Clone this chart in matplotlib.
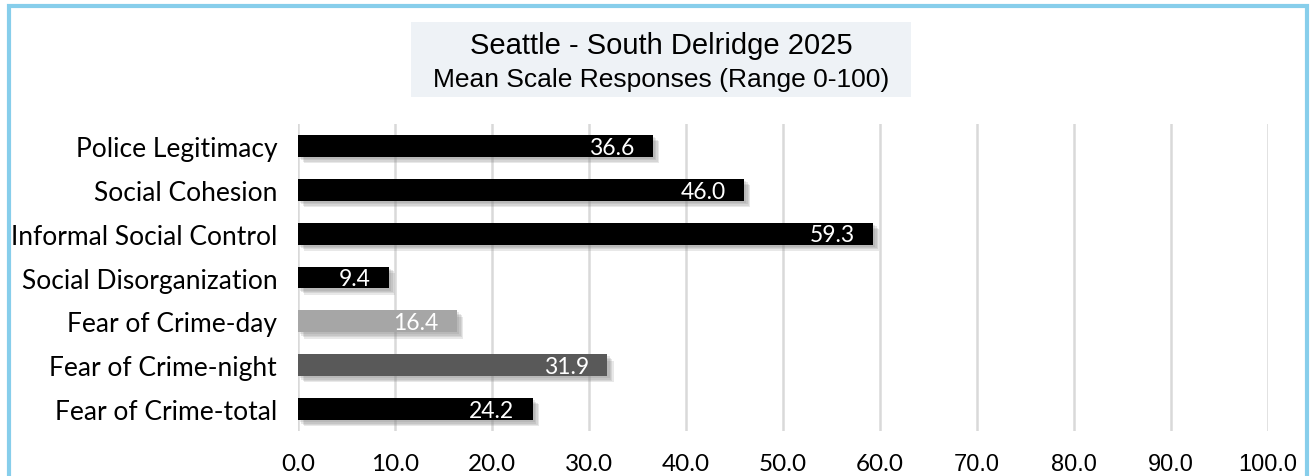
import matplotlib.pyplot as plt
import matplotlib.patheffects as pe
from matplotlib.patches import Rectangle

# data
categories = ["Police Legitimacy", "Social Cohesion", "Informal Social Control",
              "Social Disorganization", "Fear of Crime-day", "Fear of Crime-night",
              "Fear of Crime-total"]
values = [36.6, 46.0, 59.3, 9.4, 16.4, 31.9, 24.2]
bar_colors = ["#000000", "#000000", "#000000", "#000000", "#A6A6A6", "#595959", "#000000"]
ticks = [0, 10, 20, 30, 40, 50, 60, 70, 80, 90, 100]

label_font = "Lato"

fig = plt.figure(figsize=(13.15, 4.77), dpi=100)
ax = fig.add_axes([298 / 1315, 1 - 432 / 477, 970 / 1315, 307 / 477])

ypos = list(range(len(categories)))
bars = ax.barh(ypos, values, height=0.5, color=bar_colors, zorder=3)
# soft drop shadow: a few faint offset copies
shadow = [pe.SimplePatchShadow(offset=(o, -o), shadow_rgbFace="#808080", alpha=0.18)
          for o in (1.5, 2.5, 3.5, 4.5)]
for b in bars:
    b.set_path_effects(shadow + [pe.Normal()])

for y, v in zip(ypos, values):
    ax.text(v - 1.9, y + 0.03, "%.1f" % v, ha="right", va="center", color="white",
            fontsize=16.5, family=label_font, zorder=4)

ax.set_xlim(0, 100)
ax.set_ylim(6.5, -0.5)
ax.set_xticks(ticks)
ax.set_xticklabels(["%.1f" % t for t in ticks])
for i, lab in enumerate(ax.get_xticklabels()):
    if ticks[i] <= 60:
        lab.set_fontsize(17.5)
        lab.set_family(label_font)
    else:
        lab.set_fontsize(17)
        lab.set_family("Liberation Sans")
ax.set_yticks(ypos)
ax.set_yticklabels(categories, fontsize=19, family=label_font)
ax.tick_params(axis="x", length=0, pad=16)
ax.tick_params(axis="y", length=0, pad=15)
ax.grid(axis="x", color="#D9D9D9", linewidth=1.8, zorder=0)
for s in ax.spines.values():
    s.set_visible(False)

# title box
fig.patches.append(Rectangle((411 / 1315, 1 - 98 / 477), 500 / 1315, 75 / 477,
                             transform=fig.transFigure, facecolor="#EEF2F6",
                             edgecolor="none", zorder=0))
fig.text(661 / 1315, 1 - 46 / 477, "Seattle - South Delridge 2025", ha="center", va="center",
         fontsize=21, family="Liberation Sans")
fig.text(661 / 1315, 1 - 80 / 477, "Mean Scale Responses (Range 0-100)", ha="center", va="center",
         fontsize=19, family="Liberation Sans")

# outer light blue frame (bottom edge cut off)
fig.patches.append(Rectangle((9 / 1315, -0.05), 1298 / 1315, 1.05 - 7 / 477,
                             transform=fig.transFigure, facecolor="none",
                             edgecolor="#87CEEB", linewidth=3, zorder=5))

fig.savefig("out.png", dpi=100)
